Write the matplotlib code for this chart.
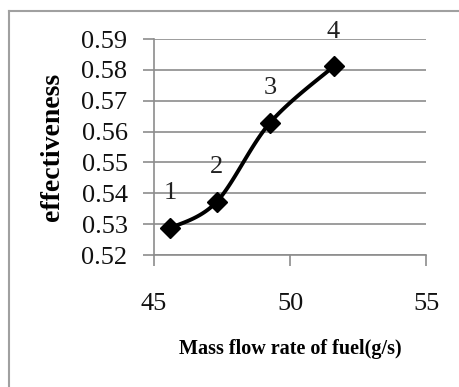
import matplotlib.pyplot as plt
import numpy as np
from matplotlib.lines import Line2D

# fuel flow (g/s) vs effectiveness
flow = [45.6, 47.3, 49.26, 51.6]
eff = [0.5287, 0.5372, 0.5628, 0.5811]
labels = ['1', '2', '3', '4']
yticks = [0.52, 0.53, 0.54, 0.55, 0.56, 0.57, 0.58, 0.59]
xticks = [45, 50, 55]

plt.rcParams['font.family'] = 'Liberation Serif'


def smooth(x, y, n=40):
    # bezier segments with catmull-rom style tangents
    x = np.asarray(x, float)
    y = np.asarray(y, float)
    px, py = [], []
    m = len(x)
    for i in range(m - 1):
        i0 = max(i - 1, 0)
        i3 = min(i + 2, m - 1)
        c1x = x[i] + (x[i + 1] - x[i0]) / 6
        c1y = y[i] + (y[i + 1] - y[i0]) / 6
        c2x = x[i + 1] - (x[i3] - x[i]) / 6
        c2y = y[i + 1] - (y[i3] - y[i]) / 6
        t = np.linspace(0, 1, n)
        bx = (1-t)**3*x[i] + 3*(1-t)**2*t*c1x + 3*(1-t)*t**2*c2x + t**3*x[i+1]
        by = (1-t)**3*y[i] + 3*(1-t)**2*t*c1y + 3*(1-t)*t**2*c2y + t**3*y[i+1]
        px.extend(bx)
        py.extend(by)
    return px, py


fig = plt.figure(figsize=(4.6, 3.87), dpi=100)
ax = fig.add_axes([154/460, 1 - 255/387, 272/460, 216/387])

sx, sy = smooth(flow, eff)
ax.plot(sx, sy, color='black', lw=2.8, zorder=3)
ax.plot(flow, eff, ls='none', marker='D', ms=10, color='black', zorder=4)
for xv, yv, t in zip(flow, eff, labels):
    ax.annotate(t, (xv, yv), xytext=(0, 25), textcoords='offset points',
                ha='center', va='center', fontsize=19, color='#222222')

ax.set_xlim(45, 55)
ax.set_ylim(0.52, 0.59)
ax.set_xticks(xticks)
ax.set_yticks(yticks)
ax.set_xticklabels([str(v) for v in xticks])
ax.set_yticklabels(['%.2f' % v for v in yticks])
ax.yaxis.grid(True, color='#8c8c8c', lw=1.2)
ax.set_axisbelow(True)
for s in ['top', 'right']:
    ax.spines[s].set_visible(False)
for s in ['left', 'bottom']:
    ax.spines[s].set_color('#8c8c8c')
    ax.spines[s].set_linewidth(1.2)
ax.tick_params(axis='both', direction='out', length=8, width=1.2,
               color='#8c8c8c', labelsize=19, labelcolor='#111111')
ax.tick_params(axis='x', pad=19)
ax.tick_params(axis='y', pad=11)

ax.set_xlabel('Mass flow rate of fuel(g/s)', fontsize=14.5, fontweight='bold')
ax.set_ylabel('effectiveness', fontsize=20, fontweight='bold')
ax.xaxis.set_label_coords(0.5, -0.39)
ax.yaxis.set_label_coords(-0.327, 0.5)

# outer chart frame
fig.add_artist(Line2D([9/460, 9/460], [0, 1 - 11/387], color='#a0a0a0', lw=1.5))
fig.add_artist(Line2D([9/460, 1], [1 - 11/387, 1 - 11/387], color='#a0a0a0', lw=1.5))

fig.savefig('out.png', dpi=100)
